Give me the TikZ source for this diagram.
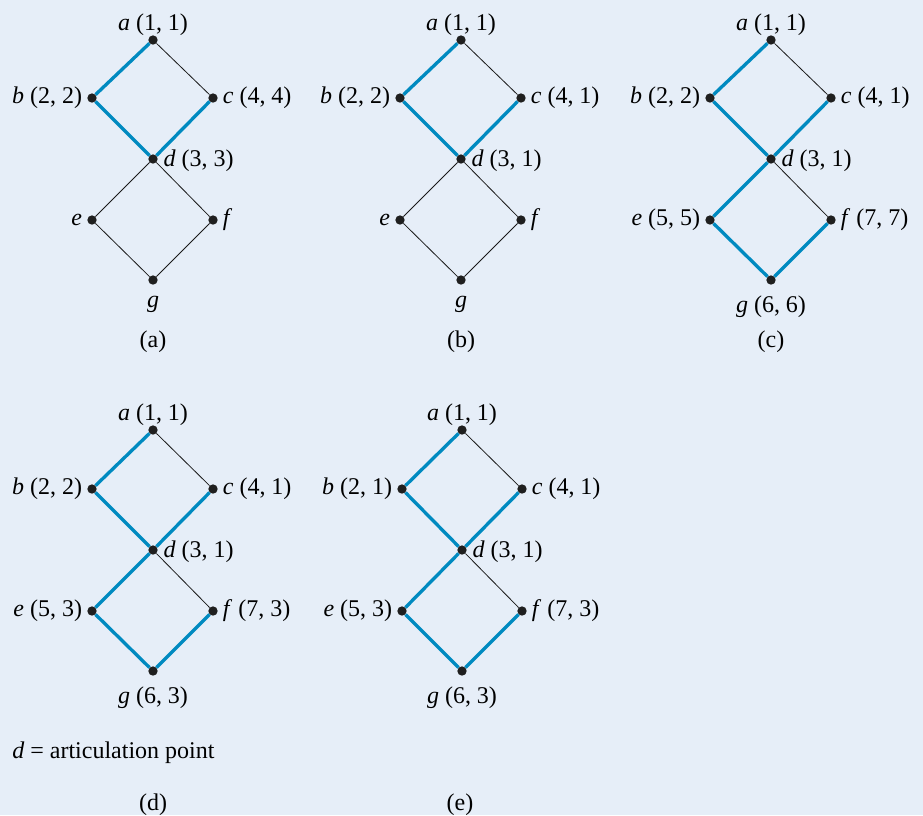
\documentclass[tikz,border=0pt]{standalone}
\usepackage{fontspec}
\setmainfont{Liberation Serif}
\usetikzlibrary{positioning}
\definecolor{bgblue}{RGB}{230,238,248}
\definecolor{edgeblue}{RGB}{0,138,192}

\begin{document}
\begin{tikzpicture}[x=0.75pt, y=-0.75pt,
    vtx/.style={circle, fill=black!88, inner sep=0pt, minimum size=7pt},
    plain/.style={line width=0.6pt, black!90},
    tree/.style={line width=2.5pt, edgeblue},
    every label/.style={font=\fontsize{18}{21}\selectfont, inner sep=1.5pt},
    label distance=2pt,
    alb/.style={label distance=-2pt},
    blb/.style={label distance=6.5pt},
    dlbl/.style={yshift=-1.5pt, label distance=2.5pt},
    capt/.style={font=\fontsize{18}{21}\selectfont}]

    % Fundo
    \fill[bgblue] (0,0) rectangle (923,815);
    \useasboundingbox (0,0) rectangle (923,815);

    % (a)
    \begin{scope}[shift={(153,40)}]
        \node[vtx, label={[alb]above:\textit{a} (1, 1)}] (a1) at (0,0) {};
        \node[vtx, label={left:\textit{b} (2, 2)}] (b1) at (-61,58) {};
        \node[vtx, label={right:\textit{c} (4, 4)}] (c1) at (60,58) {};
        \node[vtx, label={[dlbl]right:\textit{d} (3, 3)}] (d1) at (0,119) {};
        \node[vtx, label={left:\textit{e}}] (e1) at (-61,180) {};
        \node[vtx, label={right:\textit{f}}] (f1) at (60,180) {};
        \node[vtx, label={[blb]below:\textit{g}}] (g1) at (0,240) {};
        \node[capt] (cap1) at (0,302) {(a)};
    \end{scope}
    \draw[tree] (a1) -- (b1);
    \draw[tree] (b1) -- (d1);
    \draw[tree] (d1) -- (c1);
    \draw[plain] (a1) -- (c1);
    \draw[plain] (d1) -- (e1);
    \draw[plain] (d1) -- (f1);
    \draw[plain] (e1) -- (g1);
    \draw[plain] (f1) -- (g1);

    % (b)
    \begin{scope}[shift={(461,40)}]
        \node[vtx, label={[alb]above:\textit{a} (1, 1)}] (a2) at (0,0) {};
        \node[vtx, label={left:\textit{b} (2, 2)}] (b2) at (-61,58) {};
        \node[vtx, label={right:\textit{c} (4, 1)}] (c2) at (60,58) {};
        \node[vtx, label={[dlbl]right:\textit{d} (3, 1)}] (d2) at (0,119) {};
        \node[vtx, label={left:\textit{e}}] (e2) at (-61,180) {};
        \node[vtx, label={right:\textit{f}}] (f2) at (60,180) {};
        \node[vtx, label={[blb]below:\textit{g}}] (g2) at (0,240) {};
        \node[capt] (cap2) at (0,302) {(b)};
    \end{scope}
    \draw[tree] (a2) -- (b2);
    \draw[tree] (b2) -- (d2);
    \draw[tree] (d2) -- (c2);
    \draw[plain] (a2) -- (c2);
    \draw[plain] (d2) -- (e2);
    \draw[plain] (d2) -- (f2);
    \draw[plain] (e2) -- (g2);
    \draw[plain] (f2) -- (g2);

    % (c)
    \begin{scope}[shift={(771,40)}]
        \node[vtx, label={[alb]above:\textit{a} (1, 1)}] (a3) at (0,0) {};
        \node[vtx, label={left:\textit{b} (2, 2)}] (b3) at (-61,58) {};
        \node[vtx, label={right:\textit{c} (4, 1)}] (c3) at (60,58) {};
        \node[vtx, label={[dlbl]right:\textit{d} (3, 1)}] (d3) at (0,119) {};
        \node[vtx, label={left:\textit{e} (5, 5)}] (e3) at (-61,180) {};
        \node[vtx, label={right:\textit{f} (7, 7)}] (f3) at (60,180) {};
        \node[vtx, label={[blb]below:\textit{g} (6, 6)}] (g3) at (0,240) {};
        \node[capt] (cap3) at (0,302) {(c)};
    \end{scope}
    \draw[tree] (a3) -- (b3);
    \draw[tree] (b3) -- (d3);
    \draw[tree] (d3) -- (c3);
    \draw[tree] (d3) -- (e3);
    \draw[tree] (e3) -- (g3);
    \draw[tree] (g3) -- (f3);
    \draw[plain] (a3) -- (c3);
    \draw[plain] (d3) -- (f3);

    % (d)
    \begin{scope}[shift={(153,430)}]
        \node[vtx, label={[alb]above:\textit{a} (1, 1)}] (a4) at (0,0) {};
        \node[vtx, label={left:\textit{b} (2, 2)}] (b4) at (-61,59) {};
        \node[vtx, label={right:\textit{c} (4, 1)}] (c4) at (60,59) {};
        \node[vtx, label={[dlbl]right:\textit{d} (3, 1)}] (d4) at (0,120) {};
        \node[vtx, label={left:\textit{e} (5, 3)}] (e4) at (-61,181) {};
        \node[vtx, label={right:\textit{f} (7, 3)}] (f4) at (60,181) {};
        \node[vtx, label={[blb]below:\textit{g} (6, 3)}] (g4) at (0,241) {};
        \node[capt] (cap4) at (0,375) {(d)};
    \end{scope}
    \draw[tree] (a4) -- (b4);
    \draw[tree] (b4) -- (d4);
    \draw[tree] (d4) -- (c4);
    \draw[tree] (d4) -- (e4);
    \draw[tree] (e4) -- (g4);
    \draw[tree] (g4) -- (f4);
    \draw[plain] (a4) -- (c4);
    \draw[plain] (d4) -- (f4);

    % (e)
    \begin{scope}[shift={(462,430)}]
        \node[vtx, label={[alb]above:\textit{a} (1, 1)}] (a5) at (0,0) {};
        \node[vtx, label={left:\textit{b} (2, 1)}] (b5) at (-60,59) {};
        \node[vtx, label={right:\textit{c} (4, 1)}] (c5) at (60,59) {};
        \node[vtx, label={[dlbl]right:\textit{d} (3, 1)}] (d5) at (0,120) {};
        \node[vtx, label={left:\textit{e} (5, 3)}] (e5) at (-60,181) {};
        \node[vtx, label={right:\textit{f} (7, 3)}] (f5) at (60,181) {};
        \node[vtx, label={[blb]below:\textit{g} (6, 3)}] (g5) at (0,241) {};
        \node[capt] (cap5) at (-2,375) {(e)};
    \end{scope}
    \draw[tree] (a5) -- (b5);
    \draw[tree] (b5) -- (d5);
    \draw[tree] (d5) -- (c5);
    \draw[tree] (d5) -- (e5);
    \draw[tree] (e5) -- (g5);
    \draw[tree] (g5) -- (f5);
    \draw[plain] (a5) -- (c5);
    \draw[plain] (d5) -- (f5);

    % Legenda
    \node[capt, anchor=west, inner sep=0pt] (note) at (12,753) {\textit{d} = articulation point};

\end{tikzpicture}
\end{document}
